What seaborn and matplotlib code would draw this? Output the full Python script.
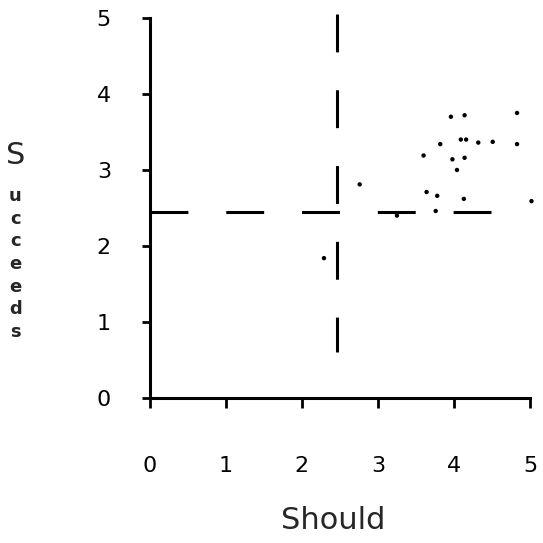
import matplotlib
matplotlib.use("Agg")
import matplotlib.pyplot as plt
import seaborn as sns
import pandas as pd

# Dados (Should x Succeeds)
should = [3.96, 4.14, 4.83, 3.82, 4.09, 4.16, 4.32, 4.51, 4.83, 3.60, 3.98,
          4.14, 4.04, 2.76, 3.64, 3.78, 4.13, 5.02, 3.76, 3.25, 2.29]
succeeds = [3.70, 3.72, 3.75, 3.34, 3.40, 3.40, 3.36, 3.37, 3.34, 3.19, 3.14,
            3.16, 3.00, 2.81, 2.71, 2.66, 2.62, 2.59, 2.46, 2.40, 1.84]

# Linhas de referencia (medias)
media_should = 2.46
media_succeeds = 2.45
lim_vert = [5.05, 0.6]
lim_horiz = [0, 4.5]

ticks = [0, 1, 2, 3, 4, 5]

df = pd.DataFrame({"should": should, "succeeds": succeeds})

sns.set_style("ticks")
plt.rcParams['font.family'] = ['DejaVu Sans']

fig = plt.figure(figsize=(5.43, 5.43), dpi=100)
ax = fig.add_axes([0.276, 0.267, 0.700, 0.700])

sns.scatterplot(data=df, x="should", y="succeeds", color="black", s=10,
                edgecolor="none", ax=ax, clip_on=False, zorder=3)

# Linhas tracejadas
estilo = (0, (12.4, 12.4))
ax.plot([media_should, media_should], lim_vert, color="black", lw=2.2,
        linestyle=estilo, clip_on=False)
ax.plot(lim_horiz, [media_succeeds, media_succeeds], color="black", lw=2.2,
        linestyle=estilo, clip_on=False)

ax.set_xlim(0, 5)
ax.set_ylim(0, 5)
ax.set_xticks(ticks)
ax.set_yticks(ticks)
ax.set_xticklabels([str(t) for t in ticks], fontsize=16)
ax.set_yticklabels([str(t) for t in ticks], fontsize=16)
ax.tick_params(axis="x", length=7, width=2, pad=35, colors="black")
ax.tick_params(axis="y", length=6, width=2, pad=22, colors="black")

sns.despine(ax=ax)
for lado in ["left", "bottom"]:
    ax.spines[lado].set_linewidth(2.2)
    ax.spines[lado].set_color("black")

ax.set_xlabel("")
ax.set_ylabel("")

# Rotulos dos eixos
fig.text(0.613, 0.042, "Should", fontsize=22, ha="center", va="center")
fig.text(0.028, 0.713, "S", fontsize=22, ha="center", va="center")
fig.text(0.028, 0.514, "u\nc\nc\ne\ne\nd\ns", fontsize=13, ha="center",
         va="center", linespacing=1.33, fontweight="bold")

fig.savefig("out.png", dpi=100)
